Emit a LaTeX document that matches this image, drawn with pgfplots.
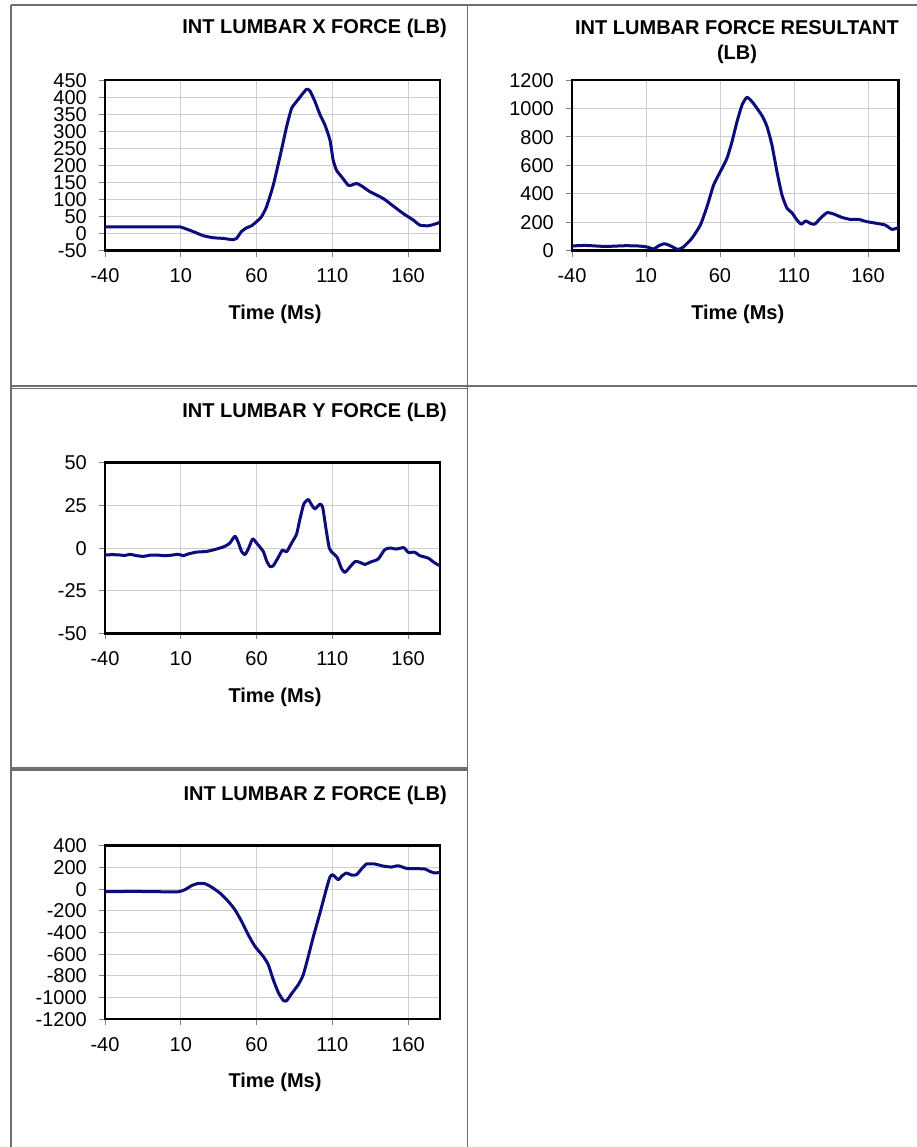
\documentclass[border=0pt]{standalone}
\usepackage{pgfplots}
\pgfplotsset{compat=1.18}
\usepackage{fontspec}
\setmainfont{Liberation Sans}
\definecolor{curvec}{RGB}{12,12,122}
\definecolor{cellb}{RGB}{110,110,110}
\definecolor{gridc}{RGB}{205,205,205}
\pgfplotsset{
  curveline/.style={color=curvec, line width=3pt, line join=round, line cap=round, mark=none, smooth, tension=0.35},
  panel/.style={
    scale only axis,
    axis background/.style={fill=white},
    xmin=-40, xmax=181,
    xtick={-40,10,60,110,160},
    grid=major,
    major grid style={gridc, line width=0.9pt},
    axis line style={black, line width=2.8pt},
    tick style={gray, line width=0.8pt},
    tick align=outside,
    major tick length=6pt,
    xtick pos=bottom, ytick pos=left,
    /pgf/number format/1000 sep={},
    /pgf/number format/assume math mode=true,
    ticklabel style={font=\fontsize{20}{22}\selectfont, inner sep=0pt},
    xticklabel style={anchor=base, yshift=-26pt},
    yticklabel style={anchor=east, xshift=-12pt, text height=14.3pt, text depth=0pt},
    title style={font=\bfseries\fontsize{20}{25}\selectfont, inner sep=0pt, yshift=-6pt},
    xlabel style={font=\bfseries\fontsize{20}{24}\selectfont, anchor=base, inner sep=0pt, yshift=-1.5pt},
  },
}
\begin{document}
\begin{tikzpicture}
\useasboundingbox (0pt,0pt) rectangle (917pt,-1147pt);
\fill[white] (0pt,0pt) rectangle (917pt,-1147pt);
% cell borders
\begin{scope}[cellb, line width=1.3pt]
\draw (11pt,-5pt) -- (917pt,-5pt);
\draw (11pt,-5pt) -- (11pt,-1147pt);
\draw (467.3pt,-5pt) -- (467.3pt,-1147pt);
\draw (11pt,-386pt) -- (917pt,-386pt);
\draw (11pt,-388.5pt) -- (467.3pt,-388.5pt);
\draw (11pt,-768pt) -- (467.3pt,-768pt);
\draw (11pt,-770pt) -- (467.3pt,-770pt);
\end{scope}

% Panel 1: X force
\begin{axis}[panel, at={(105pt,-250.7pt)}, anchor=south west,
  width=335pt, height=170.7pt,
  ymin=-50, ymax=450, ytick={-50,0,50,100,150,200,250,300,350,400,450},
  title={INT LUMBAR X FORCE (LB)},
  title style={anchor=base east, at={(1.0209,1.2753)}},
  xlabel={Time (Ms)}, xlabel style={at={(0.5075,-0.394)}},
]
\addplot[curveline] coordinates {
(-40,20) (-20,20) (0,20) (9.5,20) (11.6,17) (18.2,6) (24.8,-6) (31.4,-12) (38,-14)
(44.6,-18) (46.8,-14) (50,6) (53.4,17) (56.7,23) (60,35) (63.3,50) (66.6,79)
(71,142) (75.4,225) (79.8,313) (83.1,367) (86.4,387) (89.7,406) (93,423) (95.2,418)
(98.5,387) (101.8,349) (105.1,318) (108.4,274) (110.5,216) (112.7,186) (116,167)
(120.4,142) (122.6,142) (125.9,147) (129.2,140) (134.7,123) (143.5,103) (150.1,81)
(156.7,59) (163.3,40) (167.7,25) (173.2,23) (177.6,28) (181,33)
};
\end{axis}

% Panel 2: Resultant
\begin{axis}[panel, at={(572pt,-250.7pt)}, anchor=south west,
  width=326.3pt, height=170.7pt, xmax=180.5,
  ymin=0, ymax=1200, ytick={0,200,400,600,800,1000,1200},
  title={INT LUMBAR FORCE RESULTANT\\(LB)},
  title style={anchor=north, align=center, at={(0.5057,1.3474)}},
  xlabel={Time (Ms)}, xlabel style={at={(0.508,-0.394)}},
]
\addplot[curveline] coordinates {
(-40,33) (-31,37) (-17.5,30) (-4,35) (5,33) (10.7,26) (15.2,12) (18.6,35) (22.6,49)
(26.4,35) (31.6,9) (35.5,28) (41,87) (46.7,180) (51.2,309) (55.7,462) (60.2,555)
(64.7,649) (68.1,766) (71.5,907) (74.9,1024) (78.2,1078) (81.6,1048) (85,1001)
(88.8,942) (91.8,872) (95.1,743) (98.5,555) (101.9,391) (105.3,298) (108.6,267)
(112,216) (114.9,187) (118,209) (121,192) (124,187) (127.8,227) (132.3,267)
(136.8,258) (142.4,234) (148.1,220) (153.7,220) (159.3,204) (166.1,192) (171.7,180)
(176.2,150) (180.5,162)
};
\end{axis}

% Panel 3: Y force
\begin{axis}[panel, at={(105pt,-633.3pt)}, anchor=south west,
  width=335pt, height=170.6pt,
  ymin=-50, ymax=50, ytick={-50,-25,0,25,50},
  title={INT LUMBAR Y FORCE (LB)},
  title style={anchor=base east, at={(1.0209,1.266)}},
  xlabel={Time (Ms)}, xlabel style={at={(0.5075,-0.397)}},
]
\addplot[curveline] coordinates {
(-40,-4.1) (-35,-3.9) (-30.1,-4.1) (-27,-4.4) (-23.5,-3.7) (-19,-4.5) (-14.7,-4.9)
(-10,-4.2) (-5.9,-4.1) (-1,-4.5) (2.9,-4.3) (8.4,-3.7) (11.6,-4.5) (14.9,-3.5)
(20.4,-2.4) (27,-2) (33.6,-0.6) (39.1,1) (42.4,2.9) (45.7,6.9) (47.9,3.3) (50.1,-2)
(52.3,-3.9) (54.5,-0.6) (57.4,5.3) (60,2.9) (64.4,-2) (66.6,-7.5) (68.8,-10.8)
(71,-10.4) (74.3,-5.5) (77.1,-1.2) (79.8,-2.2) (83.1,2.9) (86.4,8.2) (88.6,17)
(91.2,25.9) (94.1,28.4) (96.3,25.3) (98.5,22.9) (101.8,25.7) (103.6,23.9) (105.8,11.2)
(108,-0.2) (110.5,-3.1) (113.2,-5.5) (116,-12) (118.2,-14.3) (120.4,-12.4) (124.8,-8)
(128.1,-8.4) (131.4,-9.6) (135.8,-8) (140.2,-6.5) (144.5,-1) (147.9,0) (152.3,-0.6)
(157.1,0.2) (160,-2.5) (164.4,-2.5) (167.7,-4.5) (173.2,-5.9) (177.6,-8.8) (181,-10.4)
};
\end{axis}

% Panel 4: Z force
\begin{axis}[panel, at={(105pt,-1019pt)}, anchor=south west,
  width=335pt, height=173.3pt,
  ymin=-1200, ymax=400, ytick={-1200,-1000,-800,-600,-400,-200,0,200,400},
  title={INT LUMBAR Z FORCE (LB)},
  title style={anchor=base east, at={(1.0209,1.2637)}},
  xlabel={Time (Ms)}, xlabel style={at={(0.5075,-0.387)}},
]
\addplot[curveline] coordinates {
(-40,-25) (-21.3,-22) (-3.7,-25) (8.4,-25) (12.7,-6) (17.1,31) (21.5,52) (25.9,49)
(30.3,18) (35.8,-37) (41.3,-114) (45.7,-191) (50.1,-298) (54.5,-422) (58.9,-529)
(64.4,-622) (67.7,-698) (71,-837) (74.3,-954) (77.6,-1028) (79.8,-1031) (83.1,-966)
(87.5,-883) (90.8,-791) (94.1,-622) (97.5,-437) (101.8,-222) (106.2,9) (108.4,111)
(110.2,132) (113.9,86) (116,117) (119.3,148) (122.6,129) (125.9,132) (129.2,185)
(132.5,231) (138,231) (143.5,212) (149,203) (153.4,215) (158.9,191) (165.5,188)
(171,185) (174.3,163) (177.6,148) (181,154)
};
\end{axis}
\end{tikzpicture}
\end{document}
